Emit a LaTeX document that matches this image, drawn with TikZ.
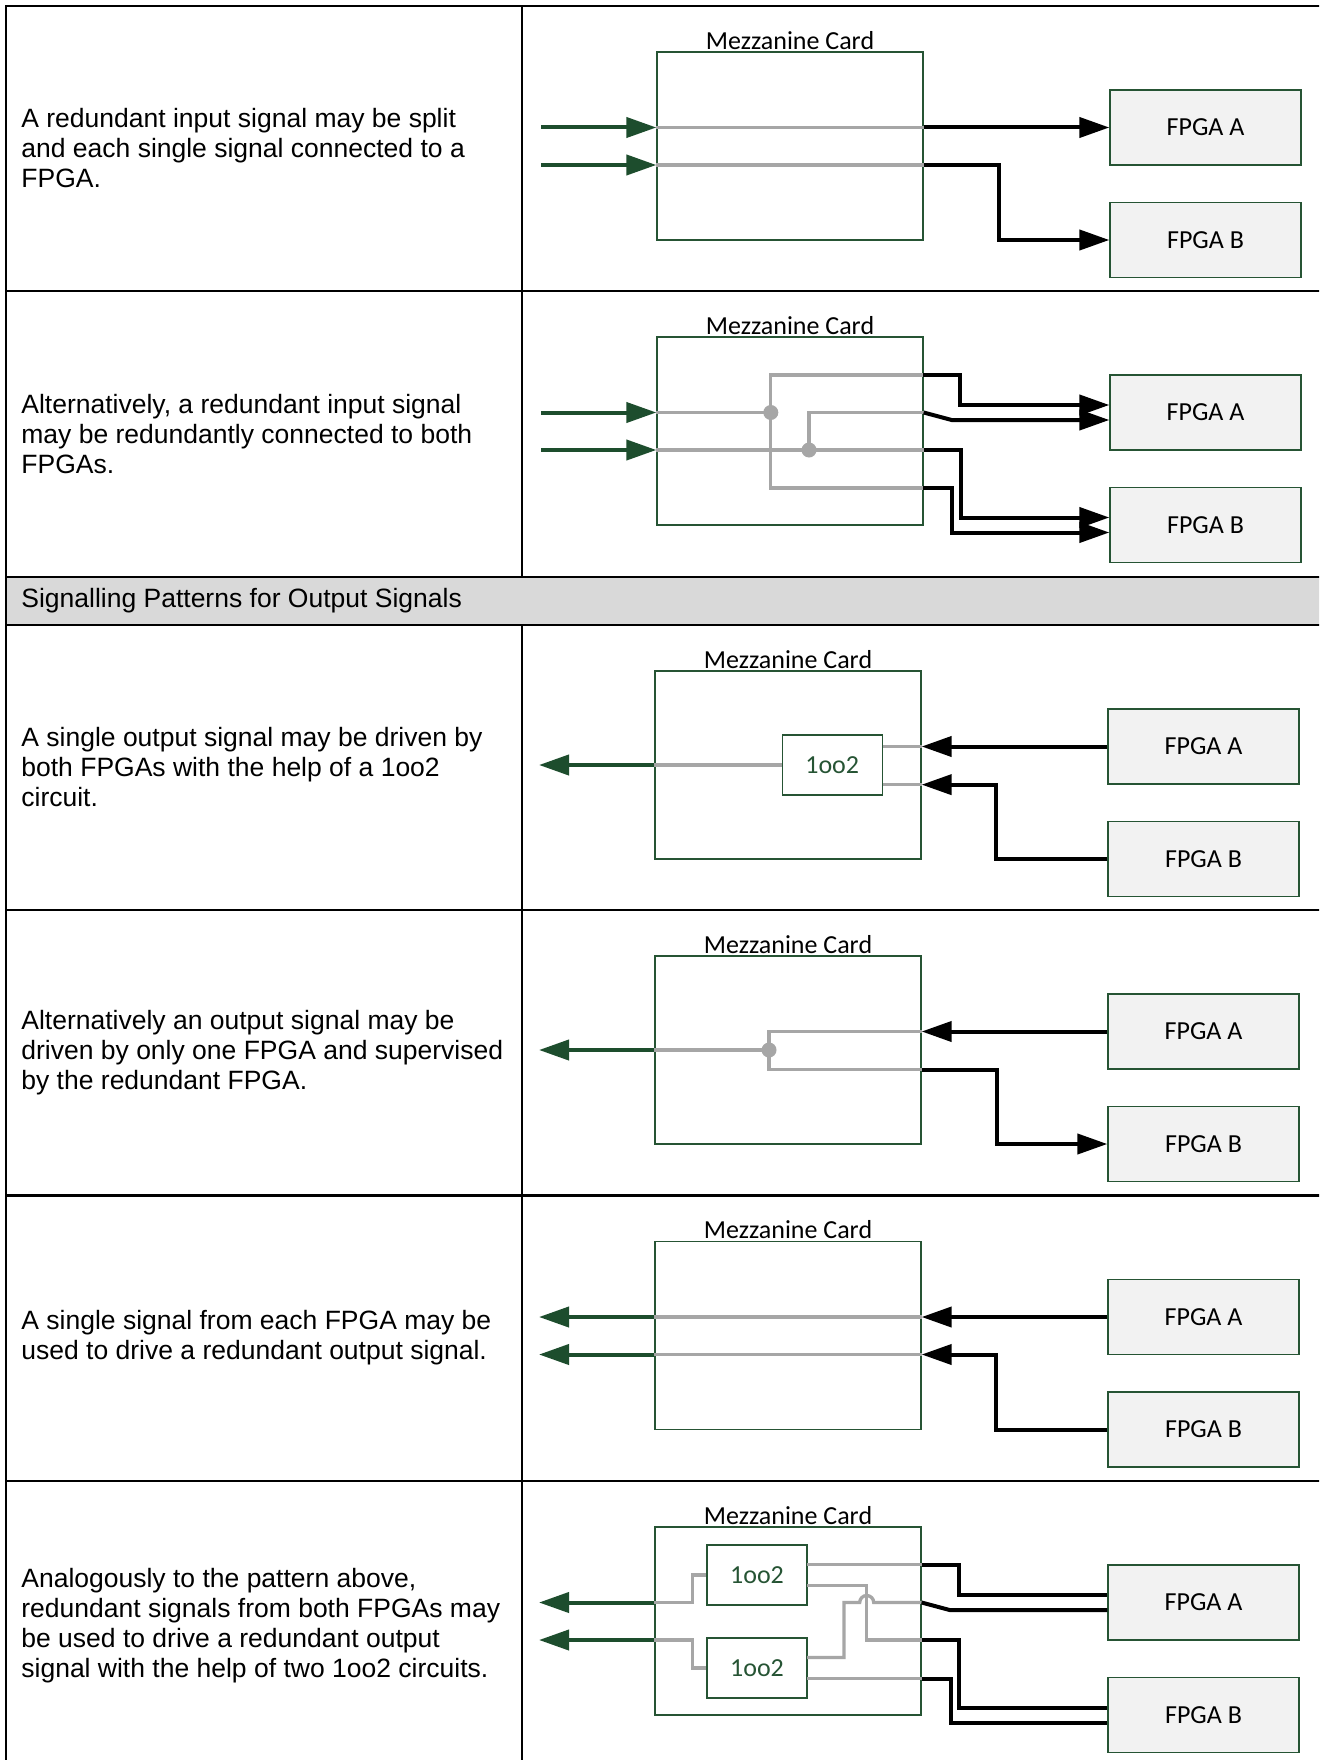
\documentclass[tikz,border=0pt]{standalone}
\usepackage{fontspec}
\setmainfont{Liberation Sans}
\newfontfamily\carlito{Carlito}
\usetikzlibrary{arrows.meta}

\definecolor{cardgreen}{RGB}{38,84,52}
\definecolor{siggreen}{RGB}{29,77,45}
\definecolor{tracegray}{RGB}{166,166,166}
\definecolor{fpgafill}{RGB}{242,242,242}
\definecolor{headfill}{RGB}{217,217,217}

\begin{document}
\begin{tikzpicture}[x=0.5pt, y=-0.5pt,
  tablerule/.style={line width=1.3pt},
  desc/.style={anchor=west, align=left, inner sep=0pt, font=\fontsize{13.25}{15}\selectfont},
  card/.style={draw=cardgreen, line width=0.65pt, minimum width=133pt, minimum height=94pt, inner sep=0pt},
  cardlabel/.style={anchor=base, inner sep=0pt, font=\carlito\fontsize{13}{15}\selectfont},
  fpga/.style={draw=cardgreen, line width=0.65pt, fill=fpgafill, minimum width=95.5pt, minimum height=37.5pt, inner sep=0pt, font=\carlito\fontsize{13}{15}\selectfont},
  voter/.style={draw=cardgreen, line width=0.65pt, fill=white, minimum width=50pt, minimum height=30pt, inner sep=0pt, text=cardgreen, font=\carlito\fontsize{13}{15}\selectfont},
  sig/.style={draw=siggreen, line width=2pt, -{Triangle[length=15pt,width=10pt]}},
  trace/.style={draw=tracegray, line width=1.65pt},
  wire/.style={line width=2pt},
  warrow/.style={wire, -{Triangle[length=15pt,width=10pt]}},
  joint/.style={circle, fill=tracegray, inner sep=0pt, minimum size=7.5pt}
]
  \useasboundingbox (0,0) rectangle (1319,1760);
  \clip (0,0) rectangle (1319,1760);
  \fill[white] (0,0) rectangle (1319,1760);

  % Table frame and header row
  \fill[headfill] (6,577) rectangle (1330,625);
  \draw[tablerule] (1330,6) -- (6,6) -- (6,1780);
  \draw[tablerule] (522,6) -- (522,577);
  \draw[tablerule] (522,625) -- (522,1780);
  \draw[tablerule] (6,291) -- (1330,291);
  \draw[tablerule] (6,577) -- (1330,577);
  \draw[tablerule] (6,625) -- (1330,625);
  \draw[tablerule] (6,910) -- (1330,910);
  \draw[tablerule] (6,1195.5) -- (1330,1195.5);
  \draw[tablerule] (6,1481) -- (1330,1481);
  \node[desc] (head) at (21,601) {Signalling Patterns for Output Signals};

  % Descriptions in the left column
  \node[desc] (txt1) at (21,148.5) {A redundant input signal may be split\\and each single signal connected to a\\FPGA.};
  \node[desc] (txt2) at (21,434) {Alternatively, a redundant input signal\\may be redundantly connected to both\\FPGAs.};
  \node[desc] (txt3) at (21,767.5) {A single output signal may be driven by\\both FPGAs with the help of a 1oo2\\circuit.};
  \node[desc] (txt4) at (21,1052.7) {Alternatively an output signal may be\\driven by only one FPGA and supervised\\by the redundant FPGA.};
  \node[desc] (txt5) at (21,1338) {A single signal from each FPGA may be\\used to drive a redundant output signal.};
  \node[desc] (txt6) at (21,1626) {Analogously to the pattern above,\\redundant signals from both FPGAs may\\be used to drive a redundant output\\signal with the help of two 1oo2 circuits.};

  % Input split: one signal per FPGA
  \begin{scope}[shift={(0,6)}]
    \node[card] (mz1) at (790,140) {};
    \node[cardlabel] (lb1) at ([yshift=1pt]mz1.north) {Mezzanine Card};
    \node[fpga] (fa1) at (1205.5,121.5) {FPGA A};
    \node[fpga] (fb1) at (1205.5,234) {FPGA B};
    \coordinate (i1a) at (541,121.5);
    \coordinate (i1b) at (541,159);
    \draw[sig] (i1a) -- (i1a -| mz1.west);
    \draw[sig] (i1b) -- (i1b -| mz1.west);
    \draw[trace] (i1a -| mz1.west) -- (i1a -| mz1.east);
    \draw[trace] (i1b -| mz1.west) -- (i1b -| mz1.east);
    \draw[warrow] (i1a -| mz1.east) -- (fa1.west);
    \draw[warrow] (i1b -| mz1.east) -- ++(75,0) |- (fb1.west);
  \end{scope}

  % Input connected redundantly to both FPGAs
  \begin{scope}[shift={(0,291)}]
    \node[card] (mz2) at (790,140) {};
    \node[cardlabel] (lb2) at ([yshift=1pt]mz2.north) {Mezzanine Card};
    \node[fpga] (fa2) at (1205.5,121.5) {FPGA A};
    \node[fpga] (fb2) at (1205.5,234) {FPGA B};
    \coordinate (i2a) at (541,121.5);
    \coordinate (i2b) at (541,159);
    \coordinate (e2a) at (923,84);
    \coordinate (e2d) at (923,197);
    \coordinate (j2a) at (770.8,121.5);
    \coordinate (j2b) at (809,159);
    \draw[sig] (i2a) -- (i2a -| mz2.west);
    \draw[sig] (i2b) -- (i2b -| mz2.west);
    \draw[trace] (i2a -| mz2.west) -- (j2a);
    \draw[trace] (e2a) -| (j2a) |- (e2d);
    \draw[trace] (i2b -| mz2.west) -- (i2b -| mz2.east);
    \draw[trace] (j2b) |- (i2a -| mz2.east);
    \node[joint] (d2a) at (j2a) {};
    \node[joint] (d2b) at (j2b) {};
    \draw[warrow] (e2a) -- ++(37,0) |- ([yshift=3.75pt]fa2.west);
    \draw[warrow] (i2a -| mz2.east) -- ++(28,7.5) -- ([yshift=-3.75pt]fa2.west);
    \draw[warrow] (i2b -| mz2.east) -- ++(37,0) |- ([yshift=3.75pt]fb2.west);
    \draw[warrow] (e2d) -- ++(29,0) |- ([yshift=-3.75pt]fb2.west);
  \end{scope}

  % Output driven by both FPGAs through a 1oo2
  \begin{scope}[shift={(-2,625)}]
    \node[card] (mz3) at (790,140) {};
    \node[cardlabel] (lb3) at ([yshift=1pt]mz3.north) {Mezzanine Card};
    \node[fpga] (fa3) at (1205.5,121.5) {FPGA A};
    \node[fpga] (fb3) at (1205.5,234) {FPGA B};
    \node[voter] (v3) at (834.2,140) {1oo2};
    \coordinate (o3) at (541,140);
    \draw[trace] (v3.west) -- (mz3.west);
    \draw[sig] (mz3.west) -- (o3);
    \draw[trace] (v3.east |- fa3.west) -- (mz3.east |- fa3.west);
    \draw[trace] (v3.east |- fa3.south) -- (mz3.east |- fa3.south);
    \draw[warrow] (fa3.west) -- (mz3.east |- fa3.west);
    \draw[warrow] (fb3.west) -- ++(-111,0) |- (mz3.east |- fa3.south);
  \end{scope}

  % Output driven by FPGA A, supervised by FPGA B
  \begin{scope}[shift={(-2,910)}]
    \node[card] (mz4) at (790,140) {};
    \node[cardlabel] (lb4) at ([yshift=1pt]mz4.north) {Mezzanine Card};
    \node[fpga] (fa4) at (1205.5,121.5) {FPGA A};
    \node[fpga] (fb4) at (1205.5,234) {FPGA B};
    \coordinate (o4) at (541,140);
    \coordinate (j4) at (771,140);
    \draw[sig] (mz4.west) -- (o4);
    \draw[trace] (mz4.west) -- (j4);
    \draw[trace] (mz4.east |- fa4.west) -| (j4) |- (mz4.east |- fa4.south);
    \node[joint] (d4) at (j4) {};
    \draw[warrow] (fa4.west) -- (mz4.east |- fa4.west);
    \draw[warrow] (mz4.east |- fa4.south) -- ++(75,0) |- (fb4.west);
  \end{scope}

  % One signal from each FPGA, redundant output
  \begin{scope}[shift={(-2,1195.5)}]
    \node[card] (mz5) at (790,140) {};
    \node[cardlabel] (lb5) at ([yshift=1pt]mz5.north) {Mezzanine Card};
    \node[fpga] (fa5) at (1205.5,121.5) {FPGA A};
    \node[fpga] (fb5) at (1205.5,234) {FPGA B};
    \coordinate (o5a) at (541,121.5);
    \coordinate (o5b) at (541,159);
    \draw[sig] (o5a -| mz5.west) -- (o5a);
    \draw[sig] (o5b -| mz5.west) -- (o5b);
    \draw[trace] (mz5.east |- o5a) -- (mz5.west |- o5a);
    \draw[trace] (mz5.east |- o5b) -- (mz5.west |- o5b);
    \draw[warrow] (fa5.west) -- (mz5.east |- o5a);
    \draw[warrow] (fb5.west) -- ++(-111,0) |- (mz5.east |- o5b);
  \end{scope}

  % Redundant signals from both FPGAs through two 1oo2
  \begin{scope}[shift={(-2,1481)}]
    \node[card] (mz6) at (790,140) {};
    \node[cardlabel] (lb6) at ([yshift=1pt]mz6.north) {Mezzanine Card};
    \node[fpga] (fa6) at (1205.5,121.5) {FPGA A};
    \node[fpga] (fb6) at (1205.5,234) {FPGA B};
    \node[voter] (va6) at (759,94) {1oo2};
    \node[voter] (vb6) at (759,187) {1oo2};
    \coordinate (o6a) at (541,121.5);
    \coordinate (o6b) at (541,159);
    \coordinate (pa1) at (809,83.5);
    \coordinate (pa2) at (809,104.5);
    \coordinate (pb1) at (809,176.5);
    \coordinate (pb2) at (809,197.5);
    \coordinate (hop6) at (868.7,121.5);
    \draw[sig] (o6a -| mz6.west) -- (o6a);
    \draw[sig] (o6b -| mz6.west) -- (o6b);
    \draw[trace] (o6a -| mz6.west) -- ++(38,0) |- (va6.west);
    \draw[trace] (o6b -| mz6.west) -- ++(38,0) |- (vb6.west);
    \draw[trace] (pa1) -- (pa1 -| mz6.east);
    \draw[trace] (pa2) -| (hop6) |- (o6b -| mz6.east);
    \draw[trace] (pb1) -- ++(37,0) |- ([xshift=-3.5pt]hop6) arc[start angle=180, end angle=0, radius=3.5pt] -- (o6a -| mz6.east);
    \draw[trace] (pb2) -- (pb2 -| mz6.east);
    \draw[wire] (pa1 -| mz6.east) -- ++(37,0) |- ([yshift=3.75pt]fa6.west);
    \draw[wire] (o6a -| mz6.east) -- ++(28,7.5) -- ([yshift=-3.75pt]fa6.west);
    \draw[wire] (o6b -| mz6.east) -- ++(37,0) |- ([yshift=3.75pt]fb6.west);
    \draw[wire] (pb2 -| mz6.east) -- ++(29,0) |- ([yshift=-3.75pt]fb6.west);
  \end{scope}
\end{tikzpicture}
\end{document}
